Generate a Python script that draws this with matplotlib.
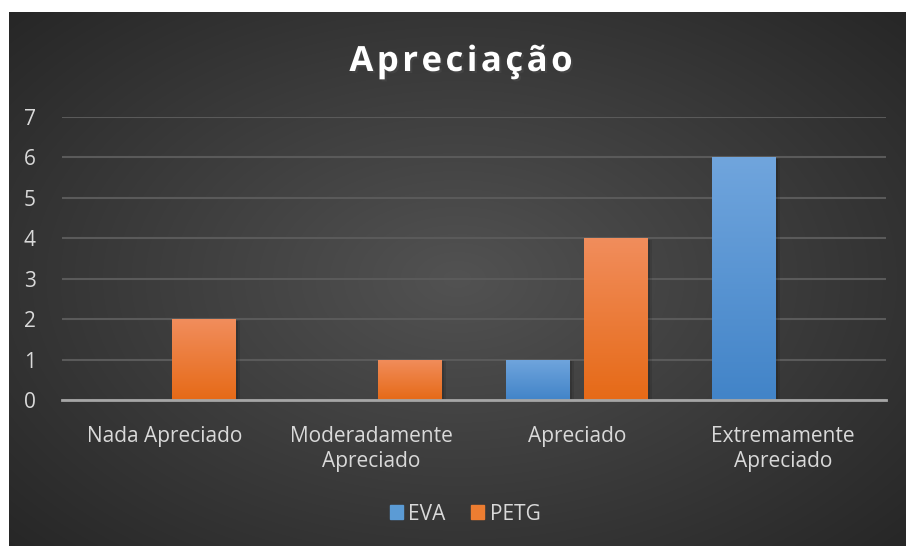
import numpy as np
import matplotlib.pyplot as plt
from matplotlib import patheffects
from matplotlib.patches import Patch

categories = ['Nada Apreciado', 'Moderadamente\nApreciado', 'Apreciado', 'Extremamente\nApreciado']
eva = [0, 0, 1, 6]
petg = [2, 1, 4, 0]
yticks = [0, 1, 2, 3, 4, 5, 6, 7]

plt.rcParams['font.family'] = ['Open Sans', 'DejaVu Sans']

W, H = 906, 546
fig = plt.figure(figsize=(W / 100, H / 100), dpi=100)
fig.patch.set_facecolor('white')

# dark radial background panel
bg = fig.add_axes([9 / W, 0, 1 - 9 / W, 534 / H], zorder=-10)
yy, xx = np.mgrid[0:1:300j, 0:1:500j]
r = np.sqrt(((xx - 0.5) / 0.75) ** 2 + ((yy - 0.5) / 0.8) ** 2)
r = np.clip(r / 0.95, 0, 1)
lo, hi = np.array([0x25, 0x25, 0x25]) / 255, np.array([0x52, 0x52, 0x52]) / 255
img = hi[None, None, :] * (1 - r[..., None]) + lo[None, None, :] * r[..., None]
bg.imshow(img, aspect='auto', extent=[0, 1, 0, 1], interpolation='bilinear')
bg.axis('off')

ax = fig.add_axes([62 / W, 146 / H, 824 / W, 283 / H])
ax.set_facecolor('none')
x = np.arange(len(categories))
w = 0.31
off = 0.19

# soft-ish shadow next to the bars
shadow = [patheffects.SimplePatchShadow(offset=(3, -1), shadow_rgbFace='black', alpha=0.10),
          patheffects.SimplePatchShadow(offset=(1.5, -1), shadow_rgbFace='black', alpha=0.12),
          patheffects.Normal()]

def grad_bars(xs, vals, top, bottom):
    bars = ax.bar(xs, vals, w, color=bottom, zorder=3, linewidth=0)
    cmap_img = np.linspace(0, 1, 100)[:, None]
    c0 = np.array(plt.matplotlib.colors.to_rgb(top))
    c1 = np.array(plt.matplotlib.colors.to_rgb(bottom))
    g = c0[None, None, :] * (1 - cmap_img[..., None]) + c1[None, None, :] * cmap_img[..., None]
    for b in bars:
        if b.get_height() <= 0:
            continue
        b.set_path_effects(shadow)
        im = ax.imshow(g, aspect='auto', zorder=4,
                       extent=[b.get_x(), b.get_x() + b.get_width(), 0, b.get_height()])
        im.set_clip_path(b)
    return bars

grad_bars(x - off, eva, '#70a5dd', '#4284c8')
grad_bars(x + off, petg, '#f18d5c', '#e66a17')

ax.set_xlim(-0.5, 3.5)
ax.set_ylim(0, 7)
ax.set_yticks(yticks)
ax.set_xticks(x)
ax.set_xticklabels(categories)
for s in ['top', 'right', 'left']:
    ax.spines[s].set_visible(False)
ax.spines['bottom'].set_color('#a6a6a6')
ax.spines['bottom'].set_linewidth(2)
ax.spines['bottom'].set_zorder(5)
ax.grid(axis='y', color='#5a5a5a', linewidth=1.5, zorder=1)
ax.set_axisbelow(True)
ax.tick_params(axis='both', length=0, colors='#d9d9d9', labelsize=15)
ax.tick_params(axis='x', pad=19)
ax.tick_params(axis='y', pad=19)
for lbl in ax.get_xticklabels():
    lbl.set_linespacing(1.25)

fig.text(461 / W, 1 - 62 / H, '\u200a'.join('Apreciação'), ha='center', va='center',
         color='white', fontsize=25, fontweight='bold',
         path_effects=[patheffects.withSimplePatchShadow(offset=(1.5, -1.5), alpha=0.5)])

handles = [Patch(color='#5b9bd5', label='EVA'), Patch(color='#ed7d31', label='PETG')]
fig.legend(handles=handles, loc='center', bbox_to_anchor=(465 / W, 1 - 514 / H), ncol=2,
           frameon=False, fontsize=15, labelcolor='#d9d9d9', handlelength=0.65,
           handleheight=0.65, handletextpad=0.25, columnspacing=1.2)

fig.savefig('out.png', dpi=100, facecolor=fig.get_facecolor())
